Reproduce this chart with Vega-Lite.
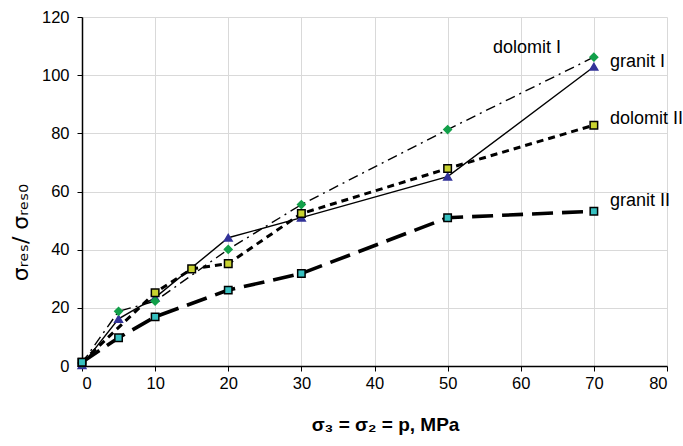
{
  "$schema": "https://vega.github.io/schema/vega-lite/v6.json",
  "width": 585,
  "height": 349,
  "autosize": {"type": "none"},
  "padding": {"left": 82, "top": 17, "right": 16, "bottom": 80},
  "background": "white",
  "config": {"view": {"stroke": null}, "font": "Liberation Sans"},
  "datasets": {
    "pts": [
      {"s": "granit I", "p": 0, "v": 0.3},
      {"s": "granit I", "p": 5, "v": 16.2},
      {"s": "granit I", "p": 10, "v": 23.5},
      {"s": "granit I", "p": 20, "v": 44.1},
      {"s": "granit I", "p": 30, "v": 51.0},
      {"s": "granit I", "p": 50, "v": 65.1},
      {"s": "granit I", "p": 70, "v": 102.9},
      {"s": "dolomit I", "p": 0, "v": 1.0},
      {"s": "dolomit I", "p": 5, "v": 18.8},
      {"s": "dolomit I", "p": 10, "v": 22.3},
      {"s": "dolomit I", "p": 20, "v": 40.1},
      {"s": "dolomit I", "p": 30, "v": 55.5},
      {"s": "dolomit I", "p": 50, "v": 81.3},
      {"s": "dolomit I", "p": 70, "v": 106.2},
      {"s": "dolomit II", "p": 0, "v": 1.3},
      {"s": "dolomit II", "p": 10, "v": 25.2},
      {"s": "dolomit II", "p": 15, "v": 33.4},
      {"s": "dolomit II", "p": 20, "v": 35.2},
      {"s": "dolomit II", "p": 30, "v": 52.4},
      {"s": "dolomit II", "p": 50, "v": 67.9},
      {"s": "dolomit II", "p": 70, "v": 82.8},
      {"s": "granit II", "p": 0, "v": 1.3},
      {"s": "granit II", "p": 5, "v": 9.7},
      {"s": "granit II", "p": 10, "v": 16.9},
      {"s": "granit II", "p": 20, "v": 26.1},
      {"s": "granit II", "p": 30, "v": 31.8},
      {"s": "granit II", "p": 50, "v": 51.0},
      {"s": "granit II", "p": 70, "v": 53.2}
    ],
    "labels": [
      {"label": "dolomit I", "p": 56.2, "v": 109.5},
      {"label": "granit I", "p": 72.2, "v": 104.4},
      {"label": "dolomit II", "p": 72.2, "v": 84.8},
      {"label": "granit II", "p": 72.2, "v": 56.6}
    ]
  },
  "layer": [
    {
      "data": {"name": "pts"},
      "transform": [{"filter": "datum.s === 'granit II'"}],
      "mark": {"type": "line", "color": "black", "strokeWidth": 3.6, "strokeDash": [21, 9], "strokeCap": "butt"},
      "encoding": {
        "x": {
          "field": "p", "type": "quantitative",
          "scale": {"domain": [0, 80], "nice": false},
          "axis": {
            "values": [0, 10, 20, 30, 40, 50, 60, 70, 80],
            "grid": true, "gridColor": "#d9d9d9", "gridWidth": 1,
            "domainColor": "black", "domainWidth": 1.5,
            "tickColor": "black", "tickSize": 5, "tickWidth": 1,
            "labelFontSize": 16.5, "labelColor": "black", "labelPadding": 4,
            "labelFont": "Liberation Sans",
            "title": "σ₃ = σ₂ = p, MPa",
            "titleFont": "Liberation Sans",
            "titleFontSize": 19, "titleFontWeight": "bold", "titleColor": "black",
            "titlePadding": 24, "titleX": 303
          }
        },
        "y": {
          "field": "v", "type": "quantitative",
          "scale": {"domain": [0, 120], "nice": false},
          "axis": {
            "values": [0, 20, 40, 60, 80, 100, 120],
            "grid": true, "gridColor": "#d9d9d9", "gridWidth": 1,
            "domainColor": "black", "domainWidth": 1.5,
            "tickColor": "black", "tickSize": 5, "tickWidth": 1,
            "labelFontSize": 16.5, "labelColor": "black", "labelPadding": 8,
            "labelFont": "Liberation Sans",
            "title": "σᵣₑₛ/ σᵣₑₛ₀",
            "titleFont": "DejaVu Sans",
            "titleFontSize": 22, "titleFontWeight": "normal", "titleColor": "black",
            "titleAngle": -90, "titleX": -62, "titleY": 215,
            "titleAlign": "center", "titleBaseline": "middle"
          }
        }
      }
    },
    {
      "data": {"name": "pts"},
      "transform": [{"filter": "datum.s === 'dolomit II'"}],
      "mark": {"type": "line", "color": "black", "strokeWidth": 3, "strokeDash": [7, 5], "strokeCap": "butt"},
      "encoding": {
        "x": {"field": "p", "type": "quantitative"},
        "y": {"field": "v", "type": "quantitative"}
      }
    },
    {
      "data": {"name": "pts"},
      "transform": [{"filter": "datum.s === 'dolomit I'"}],
      "mark": {"type": "line", "color": "black", "strokeWidth": 1.4, "strokeDash": [10, 5, 2, 5], "strokeCap": "butt"},
      "encoding": {
        "x": {"field": "p", "type": "quantitative"},
        "y": {"field": "v", "type": "quantitative"}
      }
    },
    {
      "data": {"name": "pts"},
      "transform": [{"filter": "datum.s === 'granit I'"}],
      "mark": {"type": "line", "color": "black", "strokeWidth": 1.4},
      "encoding": {
        "x": {"field": "p", "type": "quantitative"},
        "y": {"field": "v", "type": "quantitative"}
      }
    },
    {
      "data": {"name": "pts"},
      "mark": {"type": "point", "filled": true, "opacity": 1, "strokeWidth": 1.5},
      "encoding": {
        "x": {"field": "p", "type": "quantitative"},
        "y": {"field": "v", "type": "quantitative"},
        "shape": {
          "field": "s", "type": "nominal",
          "scale": {"domain": ["granit I", "dolomit I", "dolomit II", "granit II"],
                    "range": ["triangle-up", "diamond", "square", "square"]},
          "legend": null
        },
        "fill": {
          "field": "s", "type": "nominal",
          "scale": {"domain": ["granit I", "dolomit I", "dolomit II", "granit II"],
                    "range": ["#333399", "#12a04a", "#c8d230", "#36c0c0"]},
          "legend": null
        },
        "stroke": {
          "field": "s", "type": "nominal",
          "scale": {"domain": ["granit I", "dolomit I", "dolomit II", "granit II"],
                    "range": ["#333399", "#12a04a", "black", "black"]},
          "legend": null
        },
        "size": {
          "field": "s", "type": "ordinal",
          "scale": {"domain": ["granit I", "dolomit I", "dolomit II", "granit II"],
                    "range": [60, 55, 22, 22]},
          "legend": null
        }
      }
    },
    {
      "data": {"name": "labels"},
      "mark": {"type": "text", "align": "left", "baseline": "middle", "fontSize": 18, "font": "Liberation Sans", "color": "black"},
      "encoding": {
        "x": {"field": "p", "type": "quantitative"},
        "y": {"field": "v", "type": "quantitative"},
        "text": {"field": "label", "type": "nominal"}
      }
    }
  ]
}
